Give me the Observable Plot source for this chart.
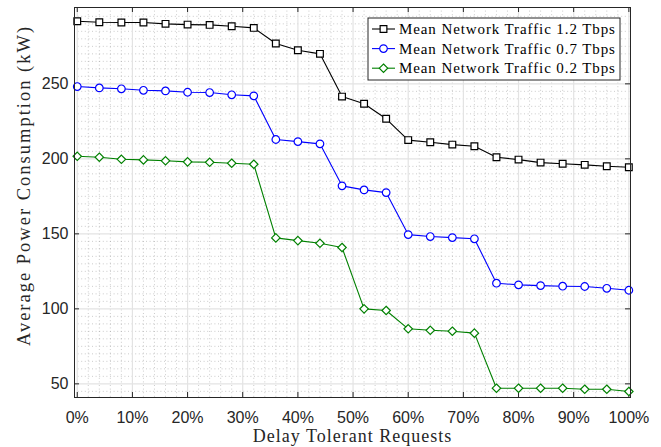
<!DOCTYPE html>
<html>
<head>
<meta charset="utf-8">
<script src="https://cdn.jsdelivr.net/npm/d3@7"></script>
<script src="https://cdn.jsdelivr.net/npm/@observablehq/plot@0.6"></script>
<style>
  html, body { margin: 0; padding: 0; background: #fff; }
  #chart svg { display: block; }
</style>
</head>
<body>
<div id="chart"></div>
<script>
// Share of delay-tolerant requests (%)
const delayTolerant = [0, 4, 8, 12, 16, 20, 24, 28, 32, 36, 40, 44, 48, 52, 56, 60, 64, 68, 72, 76, 80, 84, 88, 92, 96, 100];

// Average power consumption (kW) for each mean network traffic level
const traffic12 = [291.7, 291.1, 290.9, 290.9, 290.0, 289.5, 289.3, 288.4, 287.3, 276.9, 272.4, 270.0, 241.5, 236.7, 226.7, 212.5, 211.1, 209.5, 208.4, 201.1, 199.5, 197.5, 196.7, 196.0, 195.1, 194.4];
const traffic07 = [248.2, 247.3, 246.7, 245.7, 245.3, 244.4, 244.2, 242.7, 242.0, 212.9, 211.5, 210.0, 182.0, 179.3, 177.5, 149.5, 148.2, 147.5, 146.7, 117.1, 116.0, 115.5, 115.1, 114.9, 113.7, 112.4];
const traffic02 = [201.7, 201.1, 199.7, 199.3, 198.7, 198.0, 197.7, 197.1, 196.4, 147.3, 145.5, 143.7, 140.9, 100.0, 98.9, 86.7, 85.7, 85.1, 83.8, 47.1, 47.1, 47.1, 47.1, 46.4, 46.4, 44.9];

const seriesNames = ["Mean Network Traffic 1.2 Tbps", "Mean Network Traffic 0.7 Tbps", "Mean Network Traffic 0.2 Tbps"];

const xTicks = [0, 10, 20, 30, 40, 50, 60, 70, 80, 90, 100];
const yTicks = [50, 100, 150, 200, 250];
const xLabel = "Delay Tolerant Requests";
const yLabel = "Average Power Consumption (kW)";

// ---- styling / layout ----
const W = 661, H = 447;
const mL = 74, mR = 31, mT = 7, mB = 50;
const plotW = W - mL - mR, plotH = H - mT - mB;
const seriesColors = ["#000000", "#0000ff", "#008000"];
const seriesSymbols = ["square", "circle", "diamond2"];
const d3Symbols = [d3.symbolSquare, d3.symbolCircle, d3.symbolDiamond2];
const dotR = 3.8;
const axisColor = "#262626";
const serif = "'Liberation Serif', 'Times New Roman', serif";

const seriesValues = [traffic12, traffic07, traffic02];
const rows = seriesNames.flatMap((name, i) =>
  delayTolerant.map((x, j) => ({series: name, x, y: seriesValues[i][j]}))
);

const xMinor = d3.range(0, 101, 2).filter(d => d % 10 !== 0);
const yMinor = d3.range(45, 300, 5).filter(d => d % 50 !== 0);

// Boxed legend in the upper-right corner of the axes
function legendMark(index, scales, values, dimensions) {
  const {width, marginRight, marginTop} = dimensions;
  const boxRight = width - marginRight - 10;
  const boxTop = marginTop + 11;
  const boxW = 252, boxH = 62, rowH = 19.6;
  const x0 = boxRight - boxW + 4;
  const g = d3.create("svg:g").attr("aria-label", "legend");
  g.append("rect")
    .attr("x", boxRight - boxW).attr("y", boxTop)
    .attr("width", boxW).attr("height", boxH)
    .attr("fill", "white").attr("stroke", axisColor).attr("stroke-width", 1);
  seriesNames.forEach((name, i) => {
    const cy = boxTop + 11 + i * rowH;
    g.append("line")
      .attr("x1", x0).attr("x2", x0 + 23).attr("y1", cy).attr("y2", cy)
      .attr("stroke", seriesColors[i]).attr("stroke-width", 1.1);
    g.append("path")
      .attr("transform", `translate(${x0 + 11.5},${cy})`)
      .attr("d", d3.symbol(d3Symbols[i], Math.PI * dotR * dotR)())
      .attr("fill", "white").attr("stroke", seriesColors[i]).attr("stroke-width", 1.2);
    g.append("text")
      .attr("x", x0 + 27).attr("y", cy).attr("dy", "0.34em")
      .attr("text-anchor", "start")
      .attr("font-family", serif)
      .attr("font-size", 15).attr("letter-spacing", "0.9px")
      .attr("fill", "#000")
      .text(name);
  });
  return g.node();
}

const chart = Plot.plot({
  width: W,
  height: H,
  marginLeft: mL,
  marginRight: mR,
  marginTop: mT,
  marginBottom: mB,
  style: {fontFamily: "'Liberation Sans', Arial, sans-serif", fontSize: "16px", color: axisColor, background: "#fff"},
  x: {domain: [-0.5, 100.3]},
  y: {domain: [40.9, 300.9]},
  color: {domain: seriesNames, range: seriesColors},
  symbol: {domain: seriesNames, range: seriesSymbols},
  marks: [
    // minor grid (dotted)
    Plot.ruleX(xMinor, {x: d => d, stroke: "#9a9a9a", strokeOpacity: 0.5, strokeDasharray: "1,2.6"}),
    Plot.ruleY(yMinor, {y: d => d, stroke: "#9a9a9a", strokeOpacity: 0.5, strokeDasharray: "1,2.6"}),
    // major grid
    Plot.ruleX(xTicks, {x: d => d, stroke: "#e3e3e3", strokeWidth: 1.2}),
    Plot.ruleY(yTicks, {y: d => d, stroke: "#e3e3e3", strokeWidth: 1.2}),
    // tick labels
    Plot.axisX({ticks: xTicks, tickSize: 0, tickPadding: 14, tickFormat: d => `${d}%`, label: null, fontSize: 16, fill: axisColor}),
    Plot.axisY({ticks: yTicks, tickSize: 0, tickPadding: 6, label: null, fontSize: 16, fill: axisColor}),
    // inward tick marks on all four sides
    Plot.ruleX(xTicks, {x: d => d, insetTop: plotH - 5, stroke: axisColor}),
    Plot.ruleX(xTicks, {x: d => d, insetBottom: plotH - 5, stroke: axisColor}),
    Plot.ruleY(yTicks, {y: d => d, insetRight: plotW - 5, stroke: axisColor}),
    Plot.ruleY(yTicks, {y: d => d, insetLeft: plotW - 5, stroke: axisColor}),
    // series
    Plot.line(rows, {x: "x", y: "y", z: "series", stroke: "series", strokeWidth: 1.1}),
    Plot.dot(rows, {x: "x", y: "y", symbol: "series", stroke: "series", fill: "white", r: dotR, strokeWidth: 1.2}),
    // axes box
    Plot.frame({stroke: axisColor, strokeWidth: 1}),
    // axis titles
    Plot.text([xLabel], {text: d => d, frameAnchor: "bottom", dy: 39, lineAnchor: "middle", textAnchor: "middle",
      fontFamily: serif, fontSize: 18, fill: axisColor}),
    Plot.text([yLabel], {text: d => d, frameAnchor: "left", rotate: -90, dx: -50, dy: -17, lineAnchor: "middle", textAnchor: "middle",
      fontFamily: serif, fontSize: 18.5, fill: axisColor}),
    legendMark
  ]
});

// serif titles are set slightly spaced out
d3.select(chart).selectAll("text")
  .filter(function() { return this.textContent === xLabel; })
  .attr("letter-spacing", "1px");
d3.select(chart).selectAll("text")
  .filter(function() { return this.textContent === yLabel; })
  .attr("letter-spacing", "2px");

document.getElementById("chart").appendChild(chart);
</script>
</body>
</html>
